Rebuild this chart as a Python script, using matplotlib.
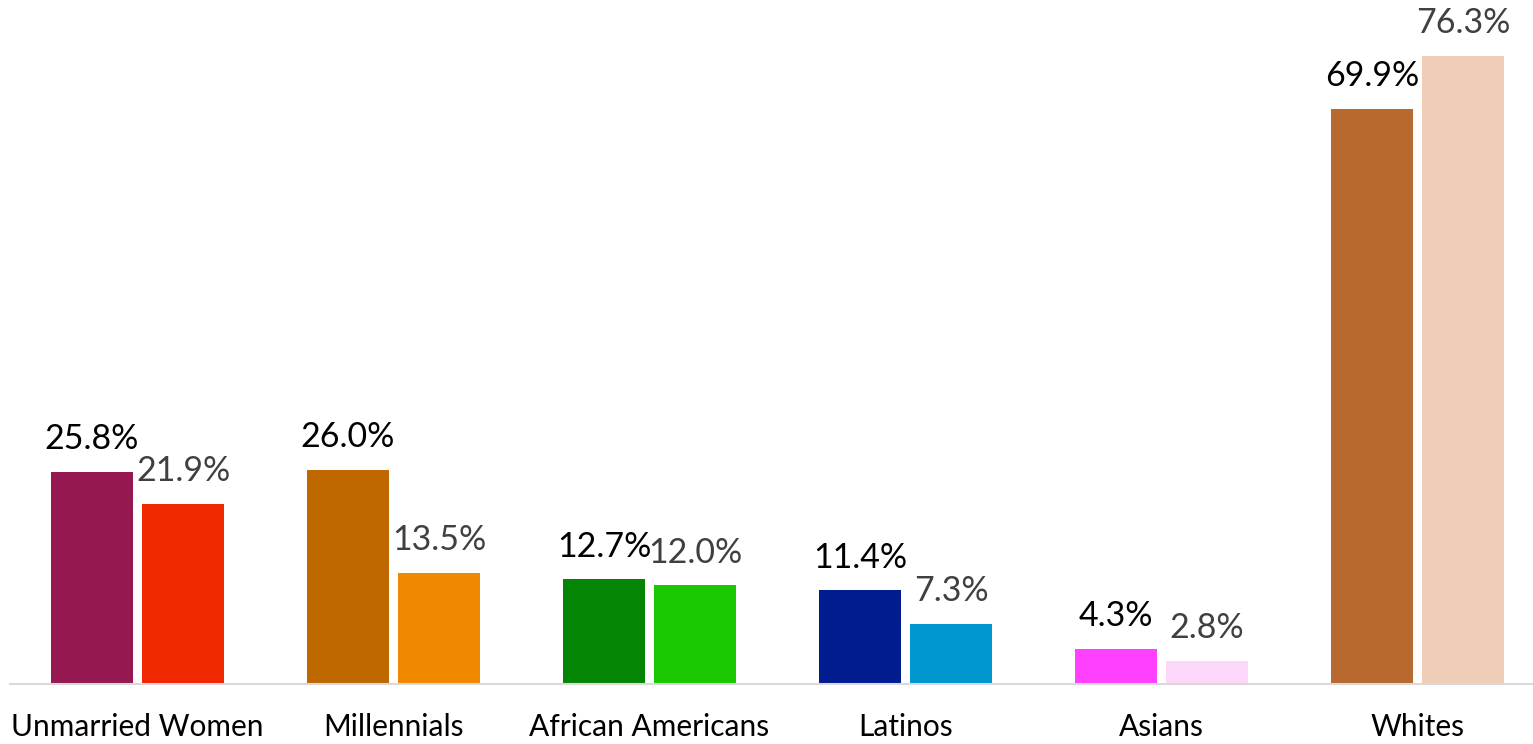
import numpy as np
import matplotlib.pyplot as plt

plt.rcParams['font.family'] = ['Lato', 'DejaVu Sans']

categories = ['Unmarried Women', 'Millennials', 'African Americans', 'Latinos', 'Asians', 'Whites']
share_a = [25.8, 26.0, 12.7, 11.4, 4.3, 69.9]
share_b = [21.9, 13.5, 12.0, 7.3, 2.8, 76.3]
colors_a = ['#951950', '#BF6800', '#058505', '#001C8F', '#FF40FF', '#B86930']
colors_b = ['#F02800', '#F08800', '#19C800', '#0096CE', '#FCD6FB', '#F0CDB6']

W, H = 1533, 744
fig = plt.figure(figsize=(W / 100, H / 100), dpi=100)
left, base = 9.5, 684
ax = fig.add_axes([left / W, 1 - base / H, 1 - left / W, base / H])

x = np.arange(len(categories))
bw = 82 / 256
off = 45.5 / 256
bars_a = ax.bar(x - off, share_a, bw, color=colors_a)
bars_b = ax.bar(x + off, share_b, bw, color=colors_b)

for b, v in zip(bars_a, share_a):
    ax.annotate(f'{v:.1f}%', (b.get_x() + b.get_width() / 2, v), xytext=(0, 12),
                textcoords='offset points', ha='center', va='bottom',
                fontsize=24.5, color='black')
for b, v in zip(bars_b, share_b):
    ax.annotate(f'{v:.1f}%', (b.get_x() + b.get_width() / 2, v), xytext=(0, 12),
                textcoords='offset points', ha='center', va='bottom',
                fontsize=24.5, color='#404040')

ax.set_xlim(-0.5, -0.5 + (W - left) / 256)
ax.set_ylim(0, base / 8.23)
ax.set_xticks(x)
ax.set_xticklabels(categories, fontsize=21.5)
ax.tick_params(axis='x', length=0, pad=21)
ax.set_yticks([])
for s in ['top', 'right', 'left']:
    ax.spines[s].set_visible(False)
ax.spines['bottom'].set_color('#D9D9D9')
ax.spines['bottom'].set_linewidth(1.5)
ax.set_facecolor('none')

fig.savefig('out.png', dpi=100)
